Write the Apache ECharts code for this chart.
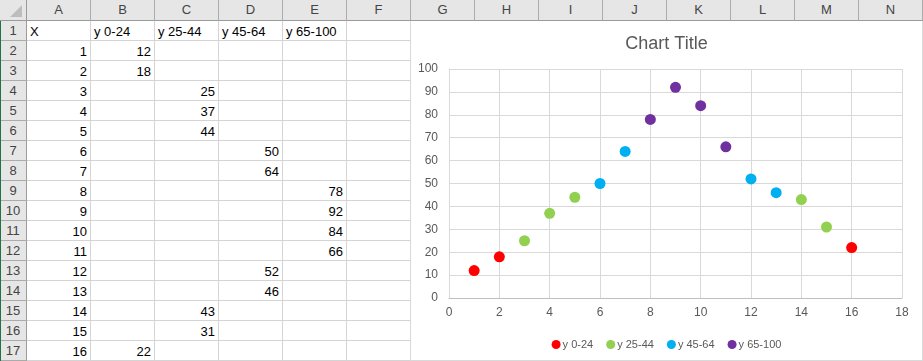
<!DOCTYPE html>
<html>
<head>
<meta charset="utf-8">
<script src="https://cdn.jsdelivr.net/npm/echarts@6/dist/echarts.min.js"></script>
<style>
  html, body { margin: 0; padding: 0; background: #fff; }
  body { width: 923px; height: 361px; position: relative; overflow: hidden; font-family: "Liberation Sans", Arial, sans-serif; }
  .cell { position: absolute; box-sizing: border-box; border-right: 1px solid #D4D4D4; border-bottom: 1px solid #D4D4D4; font-size: 13px; color: #000; line-height: 19px; padding: 1px 3px 0 3px; white-space: nowrap; overflow: visible; }
  .hdr { background: #E6E6E6; color: #444; text-align: center; border-right: 1px solid #ABABAB; border-bottom: 1px solid #9B9B9B; padding: 0; }
  .rowhdr { background: #E6E6E6; color: #444; text-align: center; border-right: 1px solid #9B9B9B; border-bottom: 1px solid #ABABAB; padding: 0; }
  .num { text-align: right; }
  #chartBox { position: absolute; left: 410px; top: 21px; width: 513px; height: 340px; background: #fff; box-sizing: border-box; border-left: 1px solid #D9D9D9; border-right: 1px solid #D9D9D9; border-bottom: 1px solid #D9D9D9; }
  #chart { position: absolute; left: 0; top: 0; width: 513px; height: 340px; }
</style>
</head>
<body>
<div id="sheet"></div>
<div id="chartBox"></div>
<div id="chartWrap" style="position:absolute;left:410px;top:21px;width:513px;height:340px;"><div id="chart"></div></div>
<script>
// ---- data ----
const columnLetters = ['A','B','C','D','E','F','G','H','I','J','K','L','M','N'];
const headers = ['X', 'y 0-24', 'y 25-44', 'y 45-64', 'y 65-100'];
const xValues = [1,2,3,4,5,6,7,8,9,10,11,12,13,14,15,16];
const y0_24   = [12,18,null,null,null,null,null,null,null,null,null,null,null,null,null,22];
const y25_44  = [null,null,25,37,44,null,null,null,null,null,null,null,null,43,31,null];
const y45_64  = [null,null,null,null,null,50,64,null,null,null,null,52,46,null,null,null];
const y65_100 = [null,null,null,null,null,null,null,78,92,84,66,null,null,null,null,null];
const seriesNames = ['y 0-24', 'y 25-44', 'y 45-64', 'y 65-100'];
const seriesColors = ['#FF0000', '#92D050', '#00B0F0', '#7030A0'];
const xTicks = { min: 0, max: 18, interval: 2 };
const yTicks = { min: 0, max: 100, interval: 10 };
const chartTitle = 'Chart Title';

// ---- spreadsheet ----
const colEdges = [0, 27, 91, 155, 219, 283, 347, 411, 475, 539, 603, 667, 731, 795, 859, 923];
const headerH = 21, rowH = 20, nRows = 17;
const sheet = document.getElementById('sheet');
function addCell(x, y, w, h, text, cls) {
  const d = document.createElement('div');
  d.className = 'cell ' + (cls || '');
  d.style.left = x + 'px'; d.style.top = y + 'px';
  d.style.width = w + 'px'; d.style.height = h + 'px';
  if (text !== undefined && text !== null) d.textContent = text;
  sheet.appendChild(d);
  return d;
}
// corner
const corner = addCell(0, 0, colEdges[1], headerH, '', 'hdr');
corner.style.borderRight = '1px solid #9B9B9B';
corner.innerHTML = '<svg width="26" height="20" style="position:absolute;left:0;top:0"><polygon points="22,5 22,17 10,17" fill="#BDBDBD"/></svg>';
// column headers
for (let c = 0; c < columnLetters.length; c++) {
  const d = addCell(colEdges[c+1], 0, colEdges[c+2] - colEdges[c+1], headerH, columnLetters[c], 'hdr');
  d.style.lineHeight = '20px';
}
const cols = [xValues, y0_24, y25_44, y45_64, y65_100];
for (let r = 0; r < nRows; r++) {
  const y = headerH + r * rowH;
  const rh = addCell(0, y, colEdges[1], rowH, String(r + 1), 'rowhdr');
  rh.style.lineHeight = '20px';
  for (let c = 0; c < columnLetters.length; c++) {
    let text = '', cls = '';
    if (c < cols.length) {
      if (r === 0) { text = headers[c]; }
      else { const v = cols[c][r - 1]; if (v !== null && v !== undefined) { text = String(v); cls = 'num'; } }
    }
    addCell(colEdges[c+1], y, colEdges[c+2] - colEdges[c+1], rowH, text, cls);
  }
}
// green left edge
const g = document.createElement('div');
g.style.cssText = 'position:absolute;left:0;top:21px;width:1px;height:340px;background:#217346;';
sheet.appendChild(g);

// ---- chart ----
const chart = echarts.init(document.getElementById('chart'), null, { renderer: 'canvas' });
const ys = [y0_24, y25_44, y45_64, y65_100];
const font = '"Liberation Sans", Arial, sans-serif';
chart.setOption({
  animation: false,
  backgroundColor: 'transparent',
  title: {
    text: chartTitle, left: 'center', top: 9,
    textStyle: { fontFamily: font, fontSize: 18, fontWeight: 'normal', color: '#595959' }
  },
  legend: {
    data: seriesNames, top: 313, left: 'center',
    icon: 'circle', itemWidth: 9, itemHeight: 9, itemGap: 13,
    textStyle: { fontFamily: font, fontSize: 11, color: '#595959', padding: [0, 0, 0, -3] }
  },
  grid: { left: 39, right: 21, top: 48, bottom: 63, containLabel: false },
  xAxis: {
    type: 'value', min: xTicks.min, max: xTicks.max, interval: xTicks.interval,
    axisLine: { show: true, lineStyle: { color: '#BFBFBF', width: 1 } },
    axisTick: { show: false },
    axisLabel: { color: '#595959', fontFamily: font, fontSize: 12, margin: 9 },
    splitLine: { show: true, lineStyle: { color: '#D9D9D9', width: 1 } }
  },
  yAxis: {
    type: 'value', min: yTicks.min, max: yTicks.max, interval: yTicks.interval,
    axisLine: { show: true, lineStyle: { color: '#D9D9D9', width: 1 } },
    axisTick: { show: false },
    axisLabel: { color: '#595959', fontFamily: font, fontSize: 12, margin: 11 },
    splitLine: { show: true, lineStyle: { color: '#D9D9D9', width: 1 } }
  },
  series: seriesNames.map((name, i) => ({
    name: name, type: 'scatter', symbol: 'circle', symbolSize: 11,
    itemStyle: { color: seriesColors[i], opacity: 1 },
    data: xValues.map((x, k) => ys[i][k] === null ? null : [x, ys[i][k]]).filter(p => p !== null)
  }))
});
</script>
</body>
</html>
